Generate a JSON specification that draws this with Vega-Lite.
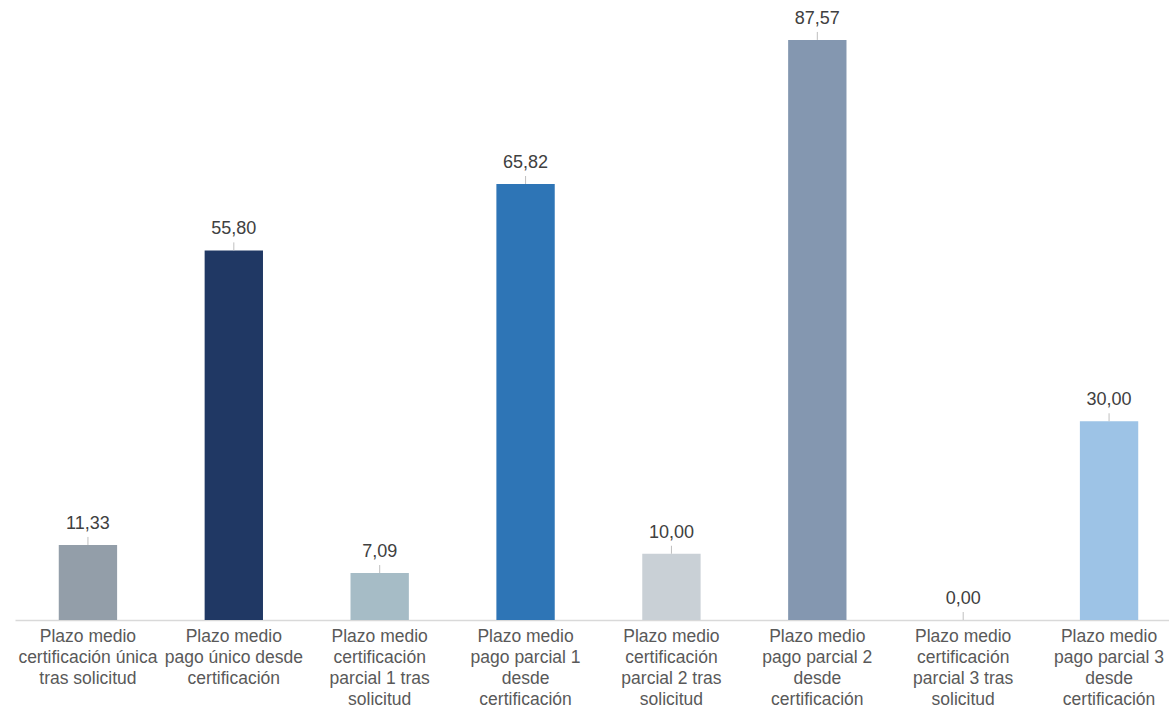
{
  "$schema": "https://vega.github.io/schema/vega-lite/v6.json",
  "autosize": "none",
  "width": 1167,
  "height": 620,
  "padding": {"left": 15, "top": 0, "right": 0, "bottom": 92},
  "background": "white",
  "config": {"view": {"stroke": null}, "font": "Liberation Sans"},
  "data": {"values": [
    {"k": "a", "label": "Plazo medio|certificación única|tras solicitud", "value": 11.33, "txt": "11,33", "color": "#939ea9"},
    {"k": "b", "label": "Plazo medio|pago único desde|certificación", "value": 55.80, "txt": "55,80", "color": "#203864"},
    {"k": "c", "label": "Plazo medio|certificación|parcial 1 tras|solicitud", "value": 7.09, "txt": "7,09", "color": "#a6bcc6"},
    {"k": "d", "label": "Plazo medio|pago parcial 1|desde|certificación", "value": 65.82, "txt": "65,82", "color": "#2e75b6"},
    {"k": "e", "label": "Plazo medio|certificación|parcial 2 tras|solicitud", "value": 10.00, "txt": "10,00", "color": "#c9d0d6"},
    {"k": "f", "label": "Plazo medio|pago parcial 2|desde|certificación", "value": 87.57, "txt": "87,57", "color": "#8497b0"},
    {"k": "g", "label": "Plazo medio|certificación|parcial 3 tras|solicitud", "value": 0.00, "txt": "0,00", "color": "#ffffff"},
    {"k": "h", "label": "Plazo medio|pago parcial 3|desde|certificación", "value": 30.00, "txt": "30,00", "color": "#9dc3e6"}
  ]},
  "encoding": {
    "x": {
      "field": "label", "type": "nominal", "sort": null,
      "scale": {"paddingInner": 0.6, "paddingOuter": 0.3},
      "axis": {
        "title": null,
        "labelExpr": "split(datum.label, '|')",
        "labelAngle": 0,
        "labelFont": "Liberation Sans",
        "labelFontSize": 17.5,
        "labelColor": "#595959",
        "labelLineHeight": 21,
        "labelPadding": 7,
        "labelBaseline": "top",
        "labelLimit": 300,
        "labelOverlap": false,
        "ticks": false,
        "domainColor": "#d9d9d9",
        "domainWidth": 1.3
      }
    },
    "y": {
      "field": "value", "type": "quantitative",
      "scale": {"domain": [0, 93.6], "nice": false},
      "axis": null
    }
  },
  "layer": [
    {
      "mark": {"type": "bar"},
      "encoding": {"color": {"field": "color", "type": "nominal", "scale": null}}
    },
    {
      "mark": {"type": "rule", "color": "#bfbfbf", "strokeWidth": 1, "y2Offset": -8},
      "encoding": {"y2": {"field": "value"}}
    },
    {
      "mark": {"type": "text", "dy": -21, "fontSize": 18, "color": "#404040", "font": "Liberation Sans"},
      "encoding": {"text": {"field": "txt"}}
    }
  ]
}
